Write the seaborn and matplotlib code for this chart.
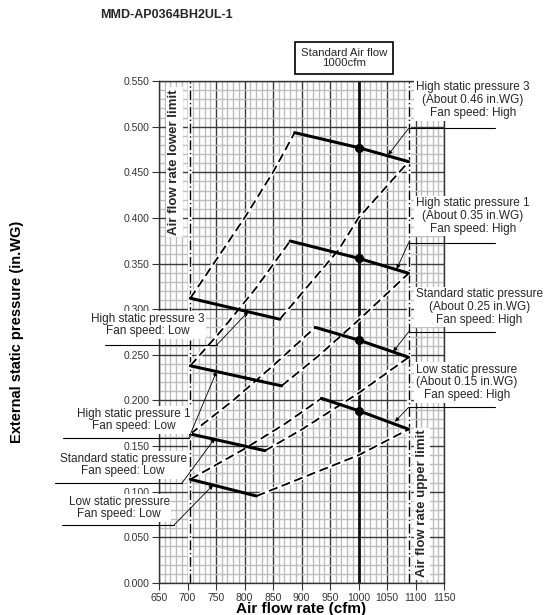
import matplotlib
matplotlib.use("Agg")
import matplotlib.pyplot as plt
import seaborn as sns
import numpy as np

sns.set_theme(style="white")
plt.rcParams['font.family'] = ['Liberation Sans', 'DejaVu Sans']

# ---------------- data ----------------
x_ticks = [650, 700, 750, 800, 850, 900, 950, 1000, 1050, 1100, 1150]
y_ticks = [0.000, 0.050, 0.100, 0.150, 0.200, 0.250, 0.300, 0.350, 0.400, 0.450, 0.500, 0.550]

lower_limit = 705
upper_limit = 1088
standard_flow = 1000

# fan speed Low (solid, left)
low_x_lsp = [705, 821];  low_y_lsp = [0.1136, 0.0953]
low_x_ssp = [705, 836];  low_y_ssp = [0.1633, 0.1450]
low_x_hs1 = [705, 865];  low_y_hs1 = [0.2380, 0.2160]
low_x_hs3 = [705, 862];  low_y_hs3 = [0.3120, 0.2890]

# fan speed High (solid, right)
high_x_lsp = [935, 1000, 1088]; high_y_lsp = [0.2023, 0.1888, 0.1684]
high_x_ssp = [924, 1000, 1088]; high_y_ssp = [0.2801, 0.2662, 0.2473]
high_x_hs1 = [880, 1000, 1088]; high_y_hs1 = [0.3747, 0.3558, 0.3393]
high_x_hs3 = [888, 1000, 1088]; high_y_hs3 = [0.4934, 0.4770, 0.4616]

# system curves (dashed) – left edge (low start -> high start)
sysL_x_lsp = [705, 800, 870, 935];  sysL_y_lsp = [0.1136, 0.147, 0.174, 0.2023]
sysL_x_ssp = [705, 780, 850, 924];  sysL_y_ssp = [0.1633, 0.200, 0.238, 0.2801]
sysL_x_hs1 = [705, 760, 820, 880];  sysL_y_hs1 = [0.2380, 0.277, 0.323, 0.3747]
sysL_x_hs3 = [705, 800, 850, 888];  sysL_y_hs3 = [0.3120, 0.400, 0.450, 0.4934]
# system curves (dashed) – right edge (low end -> high end)
sysR_x_lsp = [821, 900, 1000, 1088]; sysR_y_lsp = [0.0953, 0.115, 0.140, 0.1684]
sysR_x_ssp = [836, 900, 1000, 1088]; sysR_y_ssp = [0.1450, 0.168, 0.208, 0.2473]
sysR_x_hs1 = [865, 930, 1000, 1088]; sysR_y_hs1 = [0.2160, 0.249, 0.288, 0.3393]
sysR_x_hs3 = [862, 965, 1000, 1088]; sysR_y_hs3 = [0.2890, 0.365, 0.400, 0.4616]

# ---------------- figure ----------------
fig = plt.figure(figsize=(5.48, 6.15), dpi=100)
ax = fig.add_axes([159/548, 1-583/615, 285/548, 502/615])
ax.set_xlim(650, 1150)
ax.set_ylim(0, 0.55)

ax.set_xticks(x_ticks)
ax.set_yticks(y_ticks)
ax.set_xticks(np.arange(650, 1151, 10), minor=True)
ax.set_yticks(np.arange(0, 0.5501, 0.01), minor=True)
ax.set_xticklabels([str(v) for v in x_ticks])
ax.set_yticklabels([f"{v:.3f}" for v in y_ticks])
ax.grid(which='minor', color='#bdbdbd', lw=1.0, zorder=0)
ax.grid(which='major', color='#3a3a3a', lw=1.0, zorder=0.5)
ax.set_axisbelow(True)
ax.tick_params(which='major', direction='out', length=5, width=0.8, color='#333333',
               labelsize=7.5, labelcolor='#333333', left=True, bottom=True, pad=2)
ax.tick_params(which='minor', length=0)
for s in ax.spines.values():
    s.set_color('#333333')
    s.set_linewidth(1.0)

# limit lines
for xv in (lower_limit, upper_limit):
    ax.axvline(xv, color='white', lw=3.0, zorder=1)
    ax.axvline(xv, color='black', lw=1.0, ls=(0, (7, 2, 1, 2)), zorder=1.5)
ax.axvline(standard_flow, color='#111111', lw=2.0, zorder=1.2)

# dashed system curves
sys_sets = [(sysL_x_lsp, sysL_y_lsp), (sysL_x_ssp, sysL_y_ssp), (sysL_x_hs1, sysL_y_hs1),
            (sysL_x_hs3, sysL_y_hs3), (sysR_x_lsp, sysR_y_lsp), (sysR_x_ssp, sysR_y_ssp),
            (sysR_x_hs1, sysR_y_hs1), (sysR_x_hs3, sysR_y_hs3)]
for xs, ys in sys_sets:
    sns.lineplot(x=xs, y=ys, ax=ax, color='white', lw=3.0, sort=False, estimator=None, zorder=2)
    sns.lineplot(x=xs, y=ys, ax=ax, color='black', lw=1.3, linestyle=(0, (5, 2.5)),
                 sort=False, estimator=None, zorder=2.5)

# solid fan curves
solid_sets = [(low_x_lsp, low_y_lsp), (low_x_ssp, low_y_ssp), (low_x_hs1, low_y_hs1),
              (low_x_hs3, low_y_hs3), (high_x_lsp, high_y_lsp), (high_x_ssp, high_y_ssp),
              (high_x_hs1, high_y_hs1), (high_x_hs3, high_y_hs3)]
for xs, ys in solid_sets:
    sns.lineplot(x=xs, y=ys, ax=ax, color='black', lw=2.2, sort=False, estimator=None, zorder=3)

dots_x = [high_x_lsp[1], high_x_ssp[1], high_x_hs1[1], high_x_hs3[1]]
dots_y = [high_y_lsp[1], high_y_ssp[1], high_y_hs1[1], high_y_hs3[1]]
sns.scatterplot(x=dots_x, y=dots_y, ax=ax, color='black', s=36, zorder=4, edgecolor='black')

# axis labels & title
ax.set_xlabel('Air flow rate (cfm)', fontsize=11, fontweight='bold', color='black', labelpad=0)
ax.xaxis.set_label_coords(0.5, -0.038)
ax.set_ylabel('External static pressure (in.WG)', fontsize=10.5, fontweight='bold', color='black')
ax.yaxis.set_label_coords(-0.475, 0.5)
fig.text(100/548, 1-15/615, 'MMD-AP0364BH2UL-1', fontsize=9, fontweight='bold',
         ha='left', va='center')

# limit texts
wb = dict(facecolor='white', edgecolor='none', pad=1.5)
ax.text(677, 0.461, 'Air flow rate lower limit', rotation=90, fontsize=9.5, fontweight='bold',
        ha='center', va='center', bbox=wb, zorder=5)
ax.text(1111, 0.087, 'Air flow rate upper limit', rotation=90, fontsize=9.5, fontweight='bold',
        ha='center', va='center', bbox=wb, zorder=5)

# Standard air flow box
ax.text(974.6, 0.575, 'Standard Air flow\n1000cfm', fontsize=8.2, ha='center', va='center',
        linespacing=1.05, clip_on=False, zorder=6,
        bbox=dict(boxstyle='square,pad=0.5', facecolor='white', edgecolor='black', lw=1.2))

arrow_kw = dict(arrowstyle='-|>', lw=0.6, color='black', mutation_scale=6, shrinkA=0, shrinkB=0)

# right-hand labels (High fan speed)
right_labels = [
    ('High static pressure 3\n(About 0.46 in.WG)\nFan speed: High', 0.529, 0.4982, (1052, 0.469)),
    ('High static pressure 1\n(About 0.35 in.WG)\nFan speed: High', 0.402, 0.3729, (1067, 0.344)),
    ('Standard static pressure\n(About 0.25 in.WG)\nFan speed: High', 0.3024, 0.2753, (1061, 0.2534)),
    ('Low static pressure\n(About 0.15 in.WG)\nFan speed: High', 0.2199, 0.1925, (1064, 0.1767)),
]
for txt, yc, yu, tgt in right_labels:
    ax.text(1101, yc, txt, fontsize=8.5, ha='left', va='center', multialignment='center',
            linespacing=1.08, bbox=dict(facecolor='white', edgecolor='none', pad=1.2),
            clip_on=False, zorder=6)
    ax.plot([upper_limit, 1240], [yu, yu], color='black', lw=0.8, clip_on=False, zorder=6)
    ax.annotate('', xy=tgt, xytext=(upper_limit, yu), arrowprops=arrow_kw,
                annotation_clip=False, zorder=6)

# left-hand labels (Low fan speed)
left_labels = [
    ('High static pressure 3\nFan speed: Low', 630.7, 0.2827, 0.2608, 555, 751.3, (806.7, 0.2975)),
    ('High static pressure 1\nFan speed: Low', 606, 0.1786, 0.1585, 482, 702, (751, 0.2317)),
    ('Standard static pressure\nFan speed: Low', 587, 0.1293, 0.1092, 467, 690, (748, 0.1585)),
    ('Low static pressure\nFan speed: Low', 580, 0.0821, 0.0635, 480, 676.3, (745, 0.1074)),
]
for txt, xc, yc, yu, x0, x1, tgt in left_labels:
    ax.text(xc, yc, txt, fontsize=8.5, ha='center', va='center', multialignment='center',
            linespacing=1.08, bbox=dict(facecolor='white', edgecolor='none', pad=1.2),
            clip_on=False, zorder=6)
    ax.plot([x0, x1], [yu, yu], color='black', lw=0.8, clip_on=False, zorder=6)
    ax.annotate('', xy=tgt, xytext=(x1, yu), arrowprops=arrow_kw,
                annotation_clip=False, zorder=6)

fig.savefig('out.png', dpi=100, facecolor='white')
